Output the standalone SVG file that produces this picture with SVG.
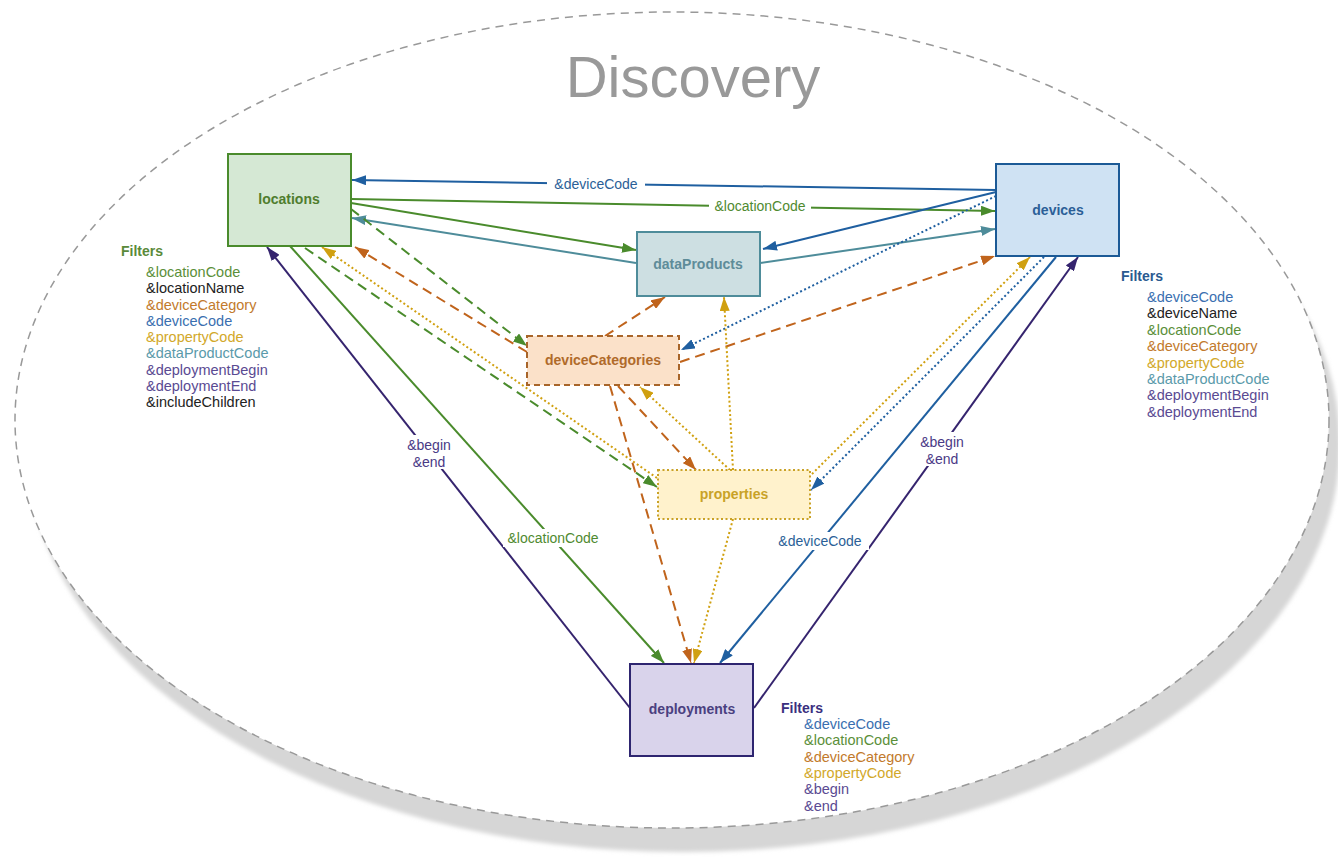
<svg xmlns="http://www.w3.org/2000/svg" width="1338" height="862" viewBox="0 0 1338 862">
<style>
text{font-family:"Liberation Sans",Arial,sans-serif;}
.node rect{stroke-width:2;}
.nlabel{font-size:14px;font-weight:bold;text-anchor:middle;}
.ln{fill:none;stroke-width:2;}
.dash{stroke-dasharray:10 6;}
.dot{stroke-dasharray:2 2.5;}
.lbl{font-size:14px;text-anchor:middle;}
.flt{font-size:14.5px;}
.fh{font-size:14px;font-weight:bold;}
.cg{fill:#5b8f3a}.ck{fill:#222}.co{fill:#c27a2c}.cb{fill:#3a6fb0}.cy{fill:#d2a82a}.ct{fill:#5a9aaa}.cp{fill:#5a4a92}
</style>
<defs>
<filter id="blur" x="-5%" y="-5%" width="110%" height="110%"><feGaussianBlur stdDeviation="2"/></filter>
<marker id="mBlue" markerUnits="userSpaceOnUse" markerWidth="14" markerHeight="10" refX="14" refY="5" orient="auto"><path d="M0,0 L14,5 L0,10 z" fill="#1f5fa0"/></marker>
<marker id="mGreen" markerUnits="userSpaceOnUse" markerWidth="14" markerHeight="10" refX="14" refY="5" orient="auto"><path d="M0,0 L14,5 L0,10 z" fill="#4a8b2c"/></marker>
<marker id="mTeal" markerUnits="userSpaceOnUse" markerWidth="14" markerHeight="10" refX="14" refY="5" orient="auto"><path d="M0,0 L14,5 L0,10 z" fill="#4e8c9a"/></marker>
<marker id="mOrange" markerUnits="userSpaceOnUse" markerWidth="14" markerHeight="10" refX="14" refY="5" orient="auto"><path d="M0,0 L14,5 L0,10 z" fill="#c0641c"/></marker>
<marker id="mGold" markerUnits="userSpaceOnUse" markerWidth="14" markerHeight="10" refX="14" refY="5" orient="auto"><path d="M0,0 L14,5 L0,10 z" fill="#d0a010"/></marker>
<marker id="mPurple" markerUnits="userSpaceOnUse" markerWidth="14" markerHeight="10" refX="14" refY="5" orient="auto"><path d="M0,0 L14,5 L0,10 z" fill="#35246e"/></marker>
</defs>
<rect width="1338" height="862" fill="#fff"/>
<g id="boundary">
<ellipse cx="683" cy="444" rx="657" ry="408" fill="#d6d6d6" filter="url(#blur)"/>
<ellipse cx="672" cy="420" rx="657" ry="408" fill="#fff" stroke="#999" stroke-width="1.5" stroke-dasharray="8 6"/>
<text x="693" y="97" font-size="58" fill="#999" text-anchor="middle">Discovery</text>
</g>
<g id="connectors">
<line class="ln" x1="996" y1="190" x2="352" y2="180" stroke="#1f5fa0" marker-end="url(#mBlue)"/>
<line class="ln" x1="351" y1="199" x2="995" y2="211" stroke="#4a8b2c" marker-end="url(#mGreen)"/>
<line class="ln" x1="351" y1="203" x2="636" y2="250" stroke="#4a8b2c" marker-end="url(#mGreen)"/>
<line class="ln" x1="636" y1="263" x2="352" y2="218" stroke="#4e8c9a" marker-end="url(#mTeal)"/>
<line class="ln" x1="996" y1="192" x2="763" y2="249" stroke="#1f5fa0" marker-end="url(#mBlue)"/>
<line class="ln" x1="760" y1="263" x2="995" y2="229" stroke="#4e8c9a" marker-end="url(#mTeal)"/>
<line class="ln dot" x1="996" y1="196" x2="681" y2="350" stroke="#1f5fa0" marker-end="url(#mBlue)"/>
<line class="ln dash" x1="680" y1="362" x2="995" y2="256" stroke="#c0641c" marker-end="url(#mOrange)"/>
<line class="ln dash" x1="605" y1="336" x2="665" y2="297" stroke="#c0641c" marker-end="url(#mOrange)"/>
<line class="ln dash" x1="527" y1="352" x2="355" y2="247" stroke="#c0641c" marker-end="url(#mOrange)"/>
<line class="ln dash" x1="351" y1="209" x2="527" y2="346" stroke="#4a8b2c" marker-end="url(#mGreen)"/>
<line class="ln dash" x1="305" y1="248" x2="657" y2="487" stroke="#4a8b2c" marker-end="url(#mGreen)"/>
<line class="ln dot" x1="657" y1="478" x2="322" y2="247" stroke="#d0a010" marker-end="url(#mGold)"/>
<line class="ln dot" x1="730" y1="470" x2="640" y2="387" stroke="#d0a010" marker-end="url(#mGold)"/>
<line class="ln dot" x1="733" y1="470" x2="724" y2="297" stroke="#d0a010" marker-end="url(#mGold)"/>
<line class="ln dash" x1="618" y1="386" x2="696" y2="470" stroke="#c0641c" marker-end="url(#mOrange)"/>
<line class="ln dash" x1="610" y1="386" x2="691" y2="663" stroke="#c0641c" marker-end="url(#mOrange)"/>
<line class="ln dot" x1="733" y1="519" x2="694" y2="663" stroke="#d0a010" marker-end="url(#mGold)"/>
<line class="ln dot" x1="812" y1="474" x2="1030" y2="257" stroke="#d0a010" marker-end="url(#mGold)"/>
<line class="ln dot" x1="1044" y1="257" x2="811" y2="490" stroke="#1f5fa0" marker-end="url(#mBlue)"/>
<line class="ln" x1="1056" y1="257" x2="720" y2="663" stroke="#1f5fa0" marker-end="url(#mBlue)"/>
<line class="ln" x1="754" y1="708" x2="1078" y2="257" stroke="#35246e" marker-end="url(#mPurple)"/>
<line class="ln" x1="630" y1="708" x2="267" y2="247" stroke="#35246e" marker-end="url(#mPurple)"/>
<line class="ln" x1="290" y1="246" x2="664" y2="663" stroke="#4a8b2c" marker-end="url(#mGreen)"/>
<rect x="547" y="175" width="98" height="18" fill="#fff"/>
<text class="lbl" x="596" y="189" fill="#2b5f97">&amp;deviceCode</text>
<rect x="709" y="197" width="102" height="18" fill="#fff"/>
<text class="lbl" x="760" y="211" fill="#4f8a30">&amp;locationCode</text>
<rect x="503" y="529" width="100" height="18" fill="#fff"/>
<text class="lbl" x="553" y="543" fill="#4f8a30">&amp;locationCode</text>
<rect x="771" y="532" width="98" height="18" fill="#fff"/>
<text class="lbl" x="820" y="546" fill="#2b5f97">&amp;deviceCode</text>
<rect x="404" y="435" width="50" height="34" fill="#fff"/>
<text class="lbl" x="429" y="450" fill="#4a3a86">&amp;begin</text>
<text class="lbl" x="429" y="467" fill="#4a3a86">&amp;end</text>
<rect x="917" y="432" width="50" height="34" fill="#fff"/>
<text class="lbl" x="942" y="447" fill="#4a3a86">&amp;begin</text>
<text class="lbl" x="942" y="464" fill="#4a3a86">&amp;end</text>
</g>
<g id="locations" class="node">
<rect x="228" y="154" width="123" height="92" fill="#d5e8d4" stroke="#4a8b2c"/>
<text class="nlabel" x="289" y="204" fill="#4f7d2e">locations</text>
</g>
<g id="devices" class="node">
<rect x="996" y="164" width="123" height="92" fill="#cfe2f3" stroke="#1c5a96"/>
<text class="nlabel" x="1058" y="215" fill="#2b5f97">devices</text>
</g>
<g id="dataProducts" class="node">
<rect x="637" y="232" width="123" height="64" fill="#cddfe2" stroke="#4e8c9a"/>
<text class="nlabel" x="698" y="269" fill="#5e8c99">dataProducts</text>
</g>
<g id="deviceCategories" class="node">
<rect x="527" y="336" width="152" height="49" fill="#fbe1c9" stroke="#a8652a" stroke-dasharray="6 4"/>
<text class="nlabel" x="603" y="365" fill="#b06a2a">deviceCategories</text>
</g>
<g id="properties" class="node">
<rect x="658" y="470" width="152" height="49" fill="#fff2cc" stroke="#c9a227" stroke-dasharray="2 2.5"/>
<text class="nlabel" x="734" y="499" fill="#c9a227">properties</text>
</g>
<g id="deployments" class="node">
<rect x="630" y="664" width="123" height="92" fill="#d9d3eb" stroke="#2e2570"/>
<text class="nlabel" x="692" y="714" fill="#4a4080">deployments</text>
</g>
<g id="locationsFilters">
<text class="fh" x="121" y="256" fill="#5a8a3a">Filters</text>
<text class="flt cg" x="146" y="277">&amp;locationCode</text>
<text class="flt ck" x="146" y="293.3">&amp;locationName</text>
<text class="flt co" x="146" y="309.5">&amp;deviceCategory</text>
<text class="flt cb" x="146" y="325.8">&amp;deviceCode</text>
<text class="flt cy" x="146" y="342">&amp;propertyCode</text>
<text class="flt ct" x="146" y="358.3">&amp;dataProductCode</text>
<text class="flt cp" x="146" y="374.5">&amp;deploymentBegin</text>
<text class="flt cp" x="146" y="390.8">&amp;deploymentEnd</text>
<text class="flt ck" x="146" y="407">&amp;includeChildren</text>
</g>
<g id="devicesFilters">
<text class="fh" x="1121" y="281" fill="#2a5a90">Filters</text>
<text class="flt cb" x="1147" y="302">&amp;deviceCode</text>
<text class="flt ck" x="1147" y="318.4">&amp;deviceName</text>
<text class="flt cg" x="1147" y="334.8">&amp;locationCode</text>
<text class="flt co" x="1147" y="351.2">&amp;deviceCategory</text>
<text class="flt cy" x="1147" y="367.6">&amp;propertyCode</text>
<text class="flt ct" x="1147" y="384">&amp;dataProductCode</text>
<text class="flt cp" x="1147" y="400.4">&amp;deploymentBegin</text>
<text class="flt cp" x="1147" y="416.8">&amp;deploymentEnd</text>
</g>
<g id="deploymentsFilters">
<text class="fh" x="781" y="713" fill="#3a3080">Filters</text>
<text class="flt cb" x="804" y="729">&amp;deviceCode</text>
<text class="flt cg" x="804" y="745.3">&amp;locationCode</text>
<text class="flt co" x="804" y="761.6">&amp;deviceCategory</text>
<text class="flt cy" x="804" y="777.9">&amp;propertyCode</text>
<text class="flt cp" x="804" y="794.2">&amp;begin</text>
<text class="flt cp" x="804" y="810.5">&amp;end</text>
</g>
</svg>
